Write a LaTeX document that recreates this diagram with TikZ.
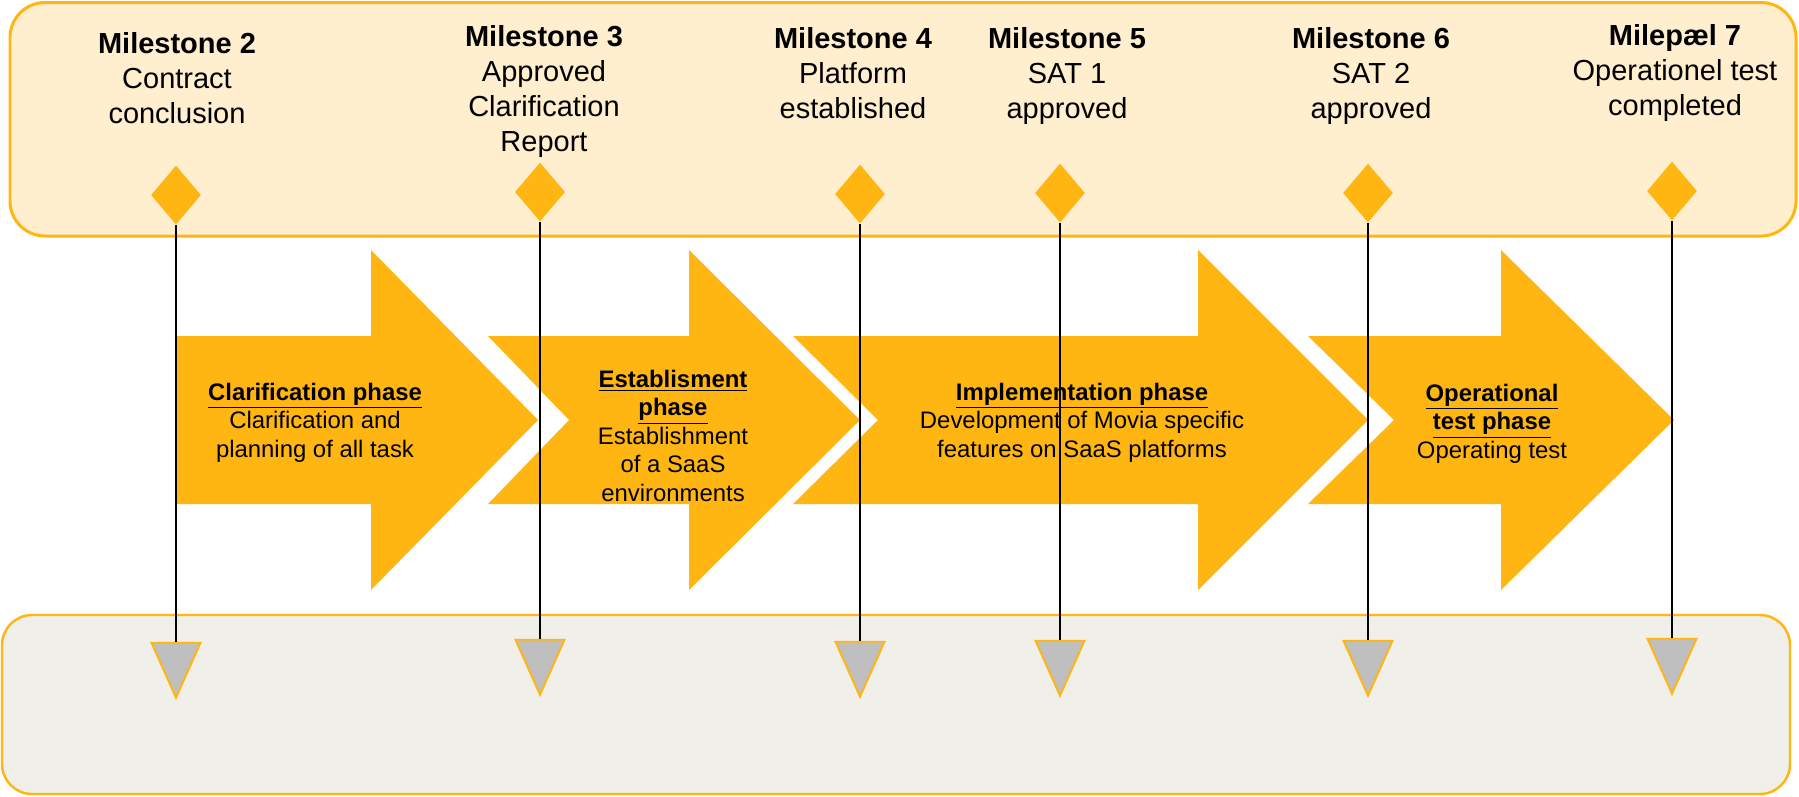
\documentclass[tikz,border=0pt]{standalone}
\usepackage{fontspec}
\setmainfont{Liberation Sans}
\usetikzlibrary{shapes.geometric,positioning}

\definecolor{gold}{RGB}{255,182,18}
\definecolor{cream}{RGB}{255,239,207}
\definecolor{stone}{RGB}{240,239,234}
\definecolor{ash}{RGB}{191,191,191}

\begin{document}
\begin{tikzpicture}[x=0.02cm,y=-0.02cm,
        milestone/.style={diamond,fill=gold,inner sep=0,minimum width=1cm,minimum height=1.18cm},
        marker/.style={isosceles triangle,isosceles triangle stretches,shape border rotate=270,
            draw=gold,line width=1.1pt,fill=ash,inner sep=0,minimum width=0.98cm,minimum height=1.1cm},
        mtext/.style={align=center,anchor=base,inner sep=0,font=\fontsize{16.5}{19.9}\selectfont},
        ptext/.style={align=center,anchor=base,inner sep=0,font=\fontsize{13.6}{16.2}\selectfont}]
        \useasboundingbox (0,0) rectangle (1799,796);

        % background bands
        \draw[gold,fill=cream,line width=1.7pt,rounded corners=0.7cm] (10,2.5) rectangle (1796,236);
        \draw[gold,fill=stone,line width=1.4pt,rounded corners=0.6cm] (2,615) rectangle (1790,794);

        % phase arrows
        \foreach \l/\n/\h/\t in {175/0/371/538, 488/81/689/860, 793/85/1198/1368, 1308/86/1501/1674}
            \fill[gold] (\l,336) -- (\h,336) -- (\h,250) -- (\t,420) -- (\h,590) -- (\h,504)
                -- (\l,504) -- ({\l+\n},420) -- cycle;

        % texts are placed by the baseline of their last line
        \node[ptext] (p1) at (315,457) {\underline{\textbf{Clarification phase}}\\Clarification and\\planning of all task};
        \node[ptext] (p2) at (673,501) {\underline{\textbf{Establisment}}\\\underline{\textbf{phase}}\\Establishment\\of a SaaS\\environments};
        \node[ptext] (p3) at (1082,457) {\underline{\textbf{Implementation phase}}\\Development of Movia specific\\features on SaaS platforms};
        \node[ptext] (p4) at (1492,458) {\underline{\textbf{Operational}}\\\underline{\textbf{test phase}}\\Operating test};

        % milestones
        \node[mtext] (l2) at (177,123) {\textbf{Milestone 2}\\Contract\\conclusion};
        \node[mtext] (l3) at (544,151) {\textbf{Milestone 3}\\Approved\\Clarification\\Report};
        \node[mtext] (l4) at (853,118) {\textbf{Milestone 4}\\Platform\\established};
        \node[mtext] (l5) at (1067,118) {\textbf{Milestone 5}\\SAT 1\\approved};
        \node[mtext] (l6) at (1371,118) {\textbf{Milestone 6}\\SAT 2\\approved};
        \node[mtext] (l7) at (1675,115) {\textbf{Milepæl 7}\\Operationel test\\completed};

        \node[milestone] (m2) at (176,195) {};
        \node[milestone] (m3) at (540,192) {};
        \node[milestone] (m4) at (860,194) {};
        \node[milestone] (m5) at (1060,193) {};
        \node[milestone] (m6) at (1368,193) {};
        \node[milestone] (m7) at (1672,191) {};

        \node[marker] (t2) [below=8.34cm of m2] {};
        \node[marker] (t3) [below=8.34cm of m3] {};
        \node[marker] (t4) [below=8.34cm of m4] {};
        \node[marker] (t5) [below=8.34cm of m5] {};
        \node[marker] (t6) [below=8.34cm of m6] {};
        \node[marker] (t7) [below=8.34cm of m7] {};

        \path[draw,line width=0.6pt]
        (m2) edge node {} (t2)
        (m3) edge node {} (t3)
        (m4) edge node {} (t4)
        (m5) edge node {} (t5)
        (m6) edge node {} (t6)
        (m7) edge node {} (t7);
    \end{tikzpicture}
\end{document}
